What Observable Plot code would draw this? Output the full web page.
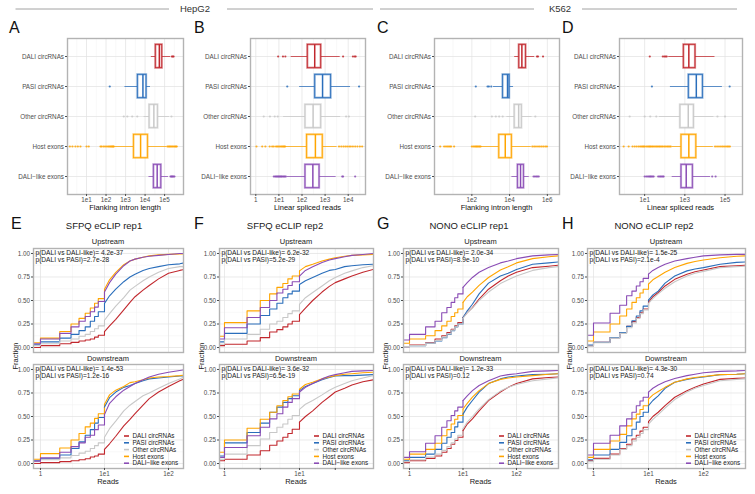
<!DOCTYPE html>
<html><head><meta charset="utf-8">
<script src="https://cdn.jsdelivr.net/npm/d3@7"></script>
<script src="https://cdn.jsdelivr.net/npm/@observablehq/plot@0.6"></script>
<style>
html,body{margin:0;padding:0;background:#fff;}
#fig{position:relative;width:755px;height:494px;overflow:hidden;background:#fff;}
#fig svg{position:absolute;left:0;top:0;}
</style></head><body><div id="fig"></div>
<script>
// ---------------- DATA ----------------
const categories = ["DALI circRNAs","PASI circRNAs","Other circRNAs","Host exons","DALI\u2212like exons"];
const colors = ["#c1272d","#2a6ebb","#c8c8c8","#ffa500","#8a4cb5"];

// Boxplot stats per category: [lower whisker, q1, median, q3, upper whisker]
const A_box = [[20900,35500,53700,75900,204000],[930,4270,7760,11900,19000],[8900,17000,28200,45700,178000],[282,2690,5890,14100,132000],[15800,28200,41700,67600,158000]];
const A_out = [[234000,263000,288000],[155],[810,1230,2190,3980,224000],
  [1.4,1.9,2.7,3.6,4.9,10,13,52,60,75,90,110,130,150,170,190,210,230,250,140000,160000,180000,200000,230000,260000,300000,340000,380000,420000],
  [200000,220000,240000,260000,290000,320000]];
const B_box = [[34,178,355,676,4500],[79,372,776,1820,12600],[16,141,302,676,4700],[20,166,380,794,3300],[23,141,295,575,3000]];
const B_out = [[9.3,15,19,6000,16000,19000,21000],[23,29500],[2.2,4.1,6.6,8.9,8100,10700],
  [1.07,1.9,2.6,4.0,5.1,6.0,7.5,8.5,9.6,11,12.5,14,15.5,17,18.5,4000,5000,6200,7500,9000,11000,13000,16000,20000,25000,32000,40000],
  [6.0,6.8,7.5,8.2,9.0,9.8,10.6,11.5,12.5,13.5,15,16.5,18,20,5500,6000,20000]];
const C_box = [[18600,32400,44700,74100,214000],[1410,4470,7760,10000,16200],[7200,18600,30200,44700,155000],[320,2820,5890,13200,141000],[13200,27500,38000,57500,110000]];
const C_out = [[282000,320000,590000],[162,680,800,1070],[150,1150,1860,2800,4300,230000],
  [2.1,3.4,4.2,5,6,7,8,11.5,100,120,140,160,180,200,230,260,290,160000,200000,250000,320000,400000,500000,620000,780000,950000],
  [186000,220000,260000,300000,350000]];
const D_box = [[158,890,1580,3390,31600],[191,1580,3720,7940,74000],[54,600,1480,2820,28000],[240,680,1580,3720,26000],[234,680,1170,2510,19000]];
const D_out = [[18,80,95,110,125],[23,170000],[1.8,10,19,38,42000,100000],
  [0.9,1.6,2.5,3.2,4,5,6,7,8,9,10,12,14,16,18,20,23,26,30,35,40,46,53,60,70,80,95,110,130,150,175,200,32000,40000,50000,62000,75000,90000,110000,130000,150000,175000],
  [10,12,14,16,18,20,22,25,28,47,55,62,70,80,88,23000,34000]];

// Tick values and labels
const A_ticks = [10,100,1e3,1e4,1e5], A_tickLabels = ["1e1","1e2","1e3","1e4","1e5"];
const B_ticks = [1,10,100,1e3,1e4], B_tickLabels = ["1","1e1","1e2","1e3","1e4"];
const C_ticks = [100,1e4,1e6], C_tickLabels = ["1e2","1e4","1e6"];
const D_ticks = [10,1e3,1e5], D_tickLabels = ["1e1","1e3","1e5"];
const EGH_ticks = [1,10,100], EGH_tickLabels = ["1","1e1","1e2"];
const F_ticks = [1,3,10,30], F_tickLabels = ["1","3e0","1e1","3e1"];
const frac_ticks = [0,0.25,0.5,0.75,1];

// ECDF curves: reads grid and fraction per category (DALI, PASI, Other, Host, DALI-like)
const E_x = [0.79,1,2,3,4,5,6,7,8,10,12,15,20,25,30,40,50,70,100,150,175];
const E_up = [
  [0.00,0.02,0.04,0.055,0.07,0.08,0.09,0.11,0.13,0.17,0.23,0.30,0.40,0.48,0.54,0.61,0.66,0.73,0.79,0.82,0.83],
  [0.03,0.06,0.10,0.14,0.18,0.22,0.28,0.33,0.38,0.47,0.55,0.62,0.70,0.75,0.78,0.82,0.84,0.86,0.88,0.89,0.90],
  [0.02,0.04,0.07,0.09,0.12,0.14,0.17,0.20,0.23,0.29,0.36,0.44,0.53,0.61,0.65,0.71,0.75,0.80,0.84,0.86,0.86],
  [0.05,0.10,0.17,0.25,0.31,0.365,0.42,0.47,0.52,0.62,0.72,0.80,0.88,0.92,0.94,0.96,0.975,0.985,0.99,0.995,0.995],
  [0.04,0.09,0.15,0.22,0.28,0.33,0.38,0.43,0.49,0.59,0.69,0.78,0.87,0.92,0.94,0.96,0.97,0.98,0.99,1.0,1.0]];
const E_down = [
  [0.00,0.01,0.02,0.03,0.04,0.05,0.07,0.08,0.10,0.15,0.21,0.29,0.40,0.47,0.53,0.62,0.69,0.76,0.82,0.88,0.90],
  [0.03,0.05,0.09,0.16,0.23,0.30,0.36,0.43,0.49,0.60,0.70,0.76,0.81,0.83,0.85,0.88,0.90,0.91,0.92,0.93,0.93],
  [0.02,0.04,0.06,0.085,0.11,0.13,0.16,0.19,0.22,0.28,0.37,0.45,0.56,0.62,0.66,0.72,0.75,0.80,0.85,0.90,0.92],
  [0.045,0.105,0.165,0.25,0.32,0.39,0.43,0.48,0.53,0.63,0.73,0.78,0.82,0.86,0.87,0.89,0.91,0.92,0.925,0.935,0.94],
  [0.025,0.06,0.12,0.18,0.22,0.28,0.30,0.36,0.41,0.52,0.64,0.71,0.78,0.82,0.85,0.89,0.92,0.95,0.97,0.99,0.995]];
const F_x = [0.87,1,2,3,4,5,6,7,8,10,12,15,20,25,30,40,50,70,96];
const F_up = [
  [0.02,0.035,0.07,0.105,0.165,0.19,0.22,0.25,0.28,0.35,0.42,0.50,0.59,0.65,0.69,0.73,0.76,0.80,0.83],
  [0.06,0.15,0.25,0.34,0.41,0.47,0.53,0.57,0.60,0.67,0.71,0.745,0.79,0.82,0.83,0.86,0.87,0.88,0.885],
  [0.035,0.09,0.14,0.195,0.25,0.28,0.32,0.36,0.39,0.46,0.53,0.585,0.655,0.71,0.745,0.79,0.815,0.85,0.87],
  [0.12,0.265,0.39,0.50,0.57,0.64,0.68,0.73,0.76,0.815,0.86,0.885,0.92,0.94,0.955,0.97,0.98,0.985,0.99],
  [0.09,0.21,0.32,0.425,0.50,0.58,0.62,0.66,0.70,0.76,0.82,0.86,0.905,0.93,0.945,0.965,0.98,0.99,1.0]];
const F_down = [
  [0.03,0.045,0.09,0.135,0.195,0.24,0.28,0.32,0.365,0.44,0.50,0.56,0.65,0.71,0.76,0.80,0.835,0.87,0.89],
  [0.08,0.22,0.33,0.43,0.545,0.60,0.65,0.69,0.72,0.775,0.82,0.85,0.89,0.915,0.93,0.935,0.935,0.94,0.945],
  [0.045,0.10,0.19,0.26,0.33,0.385,0.42,0.47,0.51,0.575,0.63,0.67,0.73,0.78,0.81,0.85,0.88,0.91,0.935],
  [0.12,0.25,0.375,0.47,0.545,0.615,0.67,0.71,0.74,0.79,0.84,0.865,0.90,0.92,0.935,0.95,0.955,0.965,0.97],
  [0.065,0.17,0.295,0.385,0.475,0.53,0.60,0.65,0.69,0.76,0.81,0.85,0.90,0.93,0.945,0.965,0.98,0.985,0.99]];
const G_x = [0.78,1,2,3,4,5,6,7,8,10,12,15,20,30,50,70,100,200,400,600];
const G_up = [
  [0.01,0.025,0.05,0.09,0.125,0.16,0.195,0.23,0.265,0.32,0.37,0.425,0.515,0.62,0.71,0.76,0.80,0.85,0.865,0.875],
  [0.01,0.02,0.045,0.07,0.105,0.14,0.18,0.22,0.25,0.32,0.39,0.46,0.57,0.685,0.76,0.79,0.83,0.885,0.90,0.91],
  [0.01,0.02,0.045,0.075,0.11,0.145,0.185,0.22,0.25,0.31,0.37,0.42,0.50,0.59,0.68,0.72,0.76,0.82,0.85,0.86],
  [0.045,0.09,0.125,0.18,0.23,0.28,0.33,0.37,0.41,0.48,0.54,0.59,0.66,0.745,0.825,0.86,0.90,0.945,0.965,0.975],
  [0.08,0.14,0.22,0.28,0.37,0.425,0.48,0.53,0.57,0.64,0.69,0.745,0.80,0.85,0.90,0.92,0.945,0.975,0.985,0.99]];
const G_down = [
  [0.01,0.03,0.055,0.08,0.12,0.16,0.205,0.245,0.28,0.35,0.42,0.475,0.56,0.67,0.76,0.81,0.85,0.90,0.915,0.92],
  [0.03,0.065,0.10,0.15,0.215,0.28,0.33,0.39,0.44,0.525,0.60,0.67,0.76,0.85,0.90,0.92,0.93,0.945,0.95,0.955],
  [0.02,0.04,0.07,0.10,0.14,0.18,0.22,0.26,0.30,0.37,0.44,0.50,0.58,0.68,0.77,0.81,0.84,0.88,0.90,0.91],
  [0.045,0.10,0.15,0.215,0.295,0.36,0.42,0.47,0.51,0.58,0.64,0.705,0.775,0.85,0.895,0.91,0.92,0.935,0.95,0.955],
  [0.065,0.125,0.215,0.295,0.385,0.455,0.51,0.56,0.60,0.67,0.72,0.775,0.83,0.88,0.93,0.945,0.955,0.98,0.985,0.99]];
const H_x = [0.78,1,2,3,4,5,6,7,8,10,12,15,20,30,50,70,100,200,400,580];
const H_up = [
  [0.02,0.055,0.105,0.16,0.225,0.275,0.32,0.37,0.41,0.48,0.54,0.585,0.655,0.725,0.78,0.805,0.825,0.86,0.87,0.875],
  [0.025,0.055,0.105,0.16,0.225,0.285,0.335,0.39,0.44,0.505,0.56,0.60,0.685,0.76,0.815,0.835,0.85,0.885,0.905,0.91],
  [0.015,0.05,0.10,0.15,0.21,0.26,0.31,0.36,0.40,0.47,0.52,0.57,0.63,0.70,0.76,0.79,0.81,0.85,0.86,0.865],
  [0.07,0.165,0.25,0.335,0.41,0.48,0.53,0.58,0.62,0.675,0.72,0.755,0.80,0.85,0.895,0.915,0.93,0.955,0.97,0.975],
  [0.13,0.26,0.365,0.45,0.55,0.60,0.655,0.70,0.735,0.78,0.82,0.85,0.885,0.92,0.945,0.96,0.975,0.985,0.99,0.99]];
const H_down = [
  [0.03,0.055,0.10,0.16,0.205,0.26,0.30,0.345,0.385,0.445,0.50,0.545,0.615,0.705,0.775,0.81,0.845,0.895,0.905,0.91],
  [0.04,0.09,0.15,0.225,0.295,0.365,0.44,0.50,0.545,0.615,0.67,0.72,0.80,0.865,0.895,0.91,0.92,0.945,0.95,0.955],
  [0.02,0.045,0.09,0.15,0.19,0.24,0.28,0.32,0.36,0.42,0.47,0.52,0.59,0.68,0.76,0.80,0.83,0.88,0.895,0.90],
  [0.065,0.15,0.24,0.31,0.40,0.475,0.525,0.575,0.615,0.685,0.73,0.765,0.81,0.865,0.90,0.915,0.925,0.945,0.95,0.955],
  [0.09,0.215,0.30,0.40,0.475,0.545,0.615,0.665,0.705,0.76,0.80,0.835,0.87,0.905,0.935,0.95,0.965,0.98,0.985,0.99]];

const pvalues = {
  E: [["p(DALI vs DALI-like)= 4.2e-37","p(DALI vs PASI)=2.7e-28"],["p(DALI vs DALI-like)= 1.4e-53","p(DALI vs PASI)=1.2e-16"]],
  F: [["p(DALI vs DALI-like)= 6.2e-32","p(DALI vs PASI)=5.2e-29"],["p(DALI vs DALI-like)= 3.6e-32","p(DALI vs PASI)=6.5e-19"]],
  G: [["p(DALI vs DALI-like)= 2.0e-34","p(DALI vs PASI)=8.9e-10"],["p(DALI vs DALI-like)= 1.2e-33","p(DALI vs PASI)=0.12"]],
  H: [["p(DALI vs DALI-like)= 1.5e-25","p(DALI vs PASI)=2.1e-4"],["p(DALI vs DALI-like)= 4.3e-30","p(DALI vs PASI)=0.74"]]
};

// ---------------- LAYOUT ----------------
const W = 755, H = 494;
const font = '"Liberation Sans", Arial, Helvetica, sans-serif';
const tickCol = "#4d4d4d";
const fig = document.getElementById("fig");
const half = p => [-0.5,0.5,1.5,2.5,3.5,4.5,5.5,6.5].map(e => 10 ** (e + p));

const topPanels = [
  {key:"A", l:67, r:183, domain:[1.06,9.3e5], ticks:A_ticks, labels:A_tickLabels, minor:half(0), box:A_box, out:A_out, xlab:"Flanking intron length", lx:9},
  {key:"B", l:250, r:365, domain:[0.59,56000], ticks:B_ticks, labels:B_tickLabels, minor:half(0), box:B_box, out:B_out, xlab:"Linear spliced reads", lx:194},
  {key:"C", l:434, r:559, domain:[1.05,4.4e6], ticks:C_ticks, labels:C_tickLabels, minor:[1,10,1e3,1e5,1e7], box:C_box, out:C_out, xlab:"Flanking intron length", lx:377},
  {key:"D", l:619, r:742, domain:[0.56,7.4e5], ticks:D_ticks, labels:D_tickLabels, minor:[1,100,1e4,1e6], box:D_box, out:D_out, xlab:"Linear spliced reads", lx:562}
];
const topT = 38, topB = 194;

const botPanels = [
  {key:"E", l:33, r:183, domain:[0.778,171.5], ticks:EGH_ticks, labels:EGH_tickLabels, minor:[10**0.5,10**1.5], xs:E_x, up:E_up, down:E_down, title:"SFPQ eCLIP rep1", tx:104, lx:11},
  {key:"F", l:219, r:373, domain:[0.858,97], ticks:F_ticks, labels:F_tickLabels, minor:[10**0.239,10**0.739,10**1.239,10**1.739], xs:F_x, up:F_up, down:F_down, title:"SFPQ eCLIP rep2", tx:285, lx:194},
  {key:"G", l:403, r:558, domain:[0.772,610], ticks:EGH_ticks, labels:EGH_tickLabels, minor:[10**0.5,10**1.5,10**2.5], xs:G_x, up:G_up, down:G_down, title:"NONO eCLIP rep1", tx:469, lx:377},
  {key:"H", l:587, r:745, domain:[0.778,580], ticks:EGH_ticks, labels:EGH_tickLabels, minor:[10**0.5,10**1.5,10**2.5], xs:H_x, up:H_up, down:H_down, title:"NONO eCLIP rep2", tx:654, lx:562}
];
const upT = 248, upB = 352, dnT = 364, dnB = 468;

function frameOpts(l, r, t, b) {
  return {width: W, height: H, marginLeft: l, marginRight: W - r, marginTop: t, marginBottom: H - b,
    style: {background: "transparent", fontFamily: font, overflow: "visible"}};
}
const inDom = (vals, dom) => vals.filter(v => v >= dom[0] && v <= dom[1]);
const gridMinor = {stroke: "#f0f0f0", strokeOpacity: 1, strokeWidth: 0.5};
const gridMajor = {stroke: "#e1e1e1", strokeOpacity: 1, strokeWidth: 0.7};

// ---------------- TOP BOXPLOTS ----------------
for (const p of topPanels) {
  const rows = p.box.map((s, i) => ({i, lo: s[0], q1: s[1], med: s[2], q3: s[3], hi: s[4], c: colors[i]}));
  const pts = p.out.flatMap((o, i) => o.map(v => ({i, v, c: colors[i]})));
  const lab = new Map(p.ticks.map((t, k) => [t, p.labels[k]]));
  const hw = 0.39;
  const svg = Plot.plot({
    ...frameOpts(p.l, p.r, topT, topB),
    color: {type: "identity"},
    x: {type: "log", domain: p.domain},
    y: {domain: [4.6, -0.6]},
    marks: [
      Plot.gridX(inDom(p.minor, p.domain), gridMinor),
      Plot.gridX(p.ticks, gridMajor),
      Plot.gridY([0,1,2,3,4], gridMajor),
      Plot.ruleY(rows, {y: "i", x1: "lo", x2: "q1", stroke: "c", strokeOpacity: 0.75, strokeWidth: 1}),
      Plot.ruleY(rows, {y: "i", x1: "q3", x2: "hi", stroke: "c", strokeOpacity: 0.75, strokeWidth: 1}),
      Plot.dot(pts, {x: "v", y: "i", r: 1.1, fill: "c", fillOpacity: 0.85, stroke: null}),
      Plot.rect(rows, {x1: "q1", x2: "q3", y1: d => d.i - hw, y2: d => d.i + hw, fill: "white", stroke: "c", strokeOpacity: 0.5, strokeWidth: 2.2}),
      Plot.rect(rows, {x1: "q1", x2: "q3", y1: d => d.i - hw, y2: d => d.i + hw, fill: "none", stroke: "c", strokeWidth: 0.8}),
      Plot.ruleX(rows, {x: "med", y1: d => d.i - hw, y2: d => d.i + hw, stroke: "c", strokeWidth: 1.5}),
      Plot.frame({stroke: "#b3b3b3", strokeWidth: 1.4}),
      Plot.axisX(p.ticks, {tickSize: 2, tickPadding: 0.8, tickFormat: d => lab.get(d), fontSize: 6.3, color: tickCol, label: null}),
      Plot.axisY([0,1,2,3,4], {tickSize: 2, tickPadding: 1.5, tickFormat: d => categories[d], fontSize: 6.3, color: tickCol, label: null})
    ]
  });
  fig.appendChild(svg);
}

// ---------------- BOTTOM ECDFs ----------------
function ecdfPlot(p, series, t, b, showX) {
  const data = [];
  series.forEach((ys, k) => ys.forEach((y, j) => data.push({x: p.xs[j], y, k, c: colors[k]})));
  const lab = new Map(p.ticks.map((tk, i) => [tk, p.labels[i]]));
  return Plot.plot({
    ...frameOpts(p.l, p.r, t, b),
    color: {type: "identity"},
    x: {type: "log", domain: p.domain, axis: showX ? undefined : null},
    y: {domain: [-0.053, 1.053]},
    marks: [
      Plot.gridX(inDom(p.minor, p.domain), gridMinor),
      Plot.gridY([0.125,0.375,0.625,0.875], gridMinor),
      Plot.gridX(p.ticks, gridMajor),
      Plot.gridY(frac_ticks, gridMajor),
      Plot.line(data.filter(d => d.x <= 10), {x: "x", y: "y", z: "k", stroke: "c", strokeWidth: 1.1, curve: "step-after", clip: true}),
      Plot.line(data.filter(d => d.x >= 10), {x: "x", y: "y", z: "k", stroke: "c", strokeWidth: 1.1, clip: true}),
      Plot.frame({stroke: "#b3b3b3", strokeWidth: 1.4}),
      Plot.axisY(frac_ticks, {tickSize: 2, tickPadding: 1.5, tickFormat: d3.format(".2f"), fontSize: 6.3, color: tickCol, label: null}),
      showX ? Plot.axisX(p.ticks, {tickSize: 2, tickPadding: 0.6, tickFormat: d => lab.get(d), fontSize: 6.3, color: tickCol, label: null}) : null
    ]
  });
}
for (const p of botPanels) {
  fig.appendChild(ecdfPlot(p, p.up, upT, upB, false));
  fig.appendChild(ecdfPlot(p, p.down, dnT, dnB, true));
}

// ---------------- ANNOTATIONS ----------------
const ann = d3.create("svg").attr("width", W).attr("height", H).attr("viewBox", `0 0 ${W} ${H}`)
  .style("font-family", font).style("overflow", "visible");
function txt(x, y, s, size, anchor = "start", fill = "#1a1a1a", rot = 0) {
  const t = ann.append("text").attr("x", x).attr("y", y).attr("font-size", size)
    .attr("text-anchor", anchor).attr("fill", fill).text(s);
  if (rot) t.attr("transform", `rotate(${rot},${x},${y})`);
  return t;
}
function hline(x1, x2, y) {
  ann.append("line").attr("x1", x1).attr("x2", x2).attr("y1", y).attr("y2", y)
    .attr("stroke", "#8c8c8c").attr("stroke-width", 0.8);
}
// cell line headers
txt(195, 12, "HepG2", 9.5, "middle", "#333");
hline(15.5, 169, 9); hline(227, 373, 9);
txt(560, 12, "K562", 9.5, "middle", "#333");
hline(380, 534, 9); hline(582, 737, 9);

for (const p of topPanels) {
  txt(p.lx, 33.3, p.key, 16, "start", "#111");
  txt((p.l + p.r) / 2, 209.6, p.xlab, 7.5, "middle", "#111");
}
for (const p of botPanels) {
  const cx = (p.l + p.r) / 2;
  txt(p.lx, 229, p.key, 16, "start", "#111");
  txt(p.tx, 228.5, p.title, 9.5, "middle", "#1a1a1a");
  txt(cx, 244.3, "Upstream", 7.5, "middle", "#1a1a1a");
  txt(cx, 361.3, "Downstream", 7.5, "middle", "#1a1a1a");
  txt(cx, 483.6, "Reads", 7.5, "middle", "#1a1a1a");
  txt(p.l - 15.5, 356, "Fraction", 7.5, "middle", "#1a1a1a", -90);
  const pv = pvalues[p.key];
  [[upT, pv[0]], [dnT, pv[1]]].forEach(([t, lines]) => {
    txt(p.l + 2.5, t + 7.4, lines[0], 6.6, "start", "#1a1a1a");
    txt(p.l + 2.5, t + 14.4, lines[1], 6.6, "start", "#1a1a1a");
  });
  // legend
  const lxText = p.r - 50.5;
  categories.forEach((c, i) => {
    const y = dnB - 32 + i * 6.8;
    ann.append("line").attr("x1", lxText - 8.5).attr("x2", lxText - 3.5).attr("y1", y).attr("y2", y)
      .attr("stroke", colors[i]).attr("stroke-width", 1.6);
    txt(lxText, y + 2.2, c, 6.3, "start", "#1a1a1a");
  });
}
fig.appendChild(ann.node());
</script></body></html>
